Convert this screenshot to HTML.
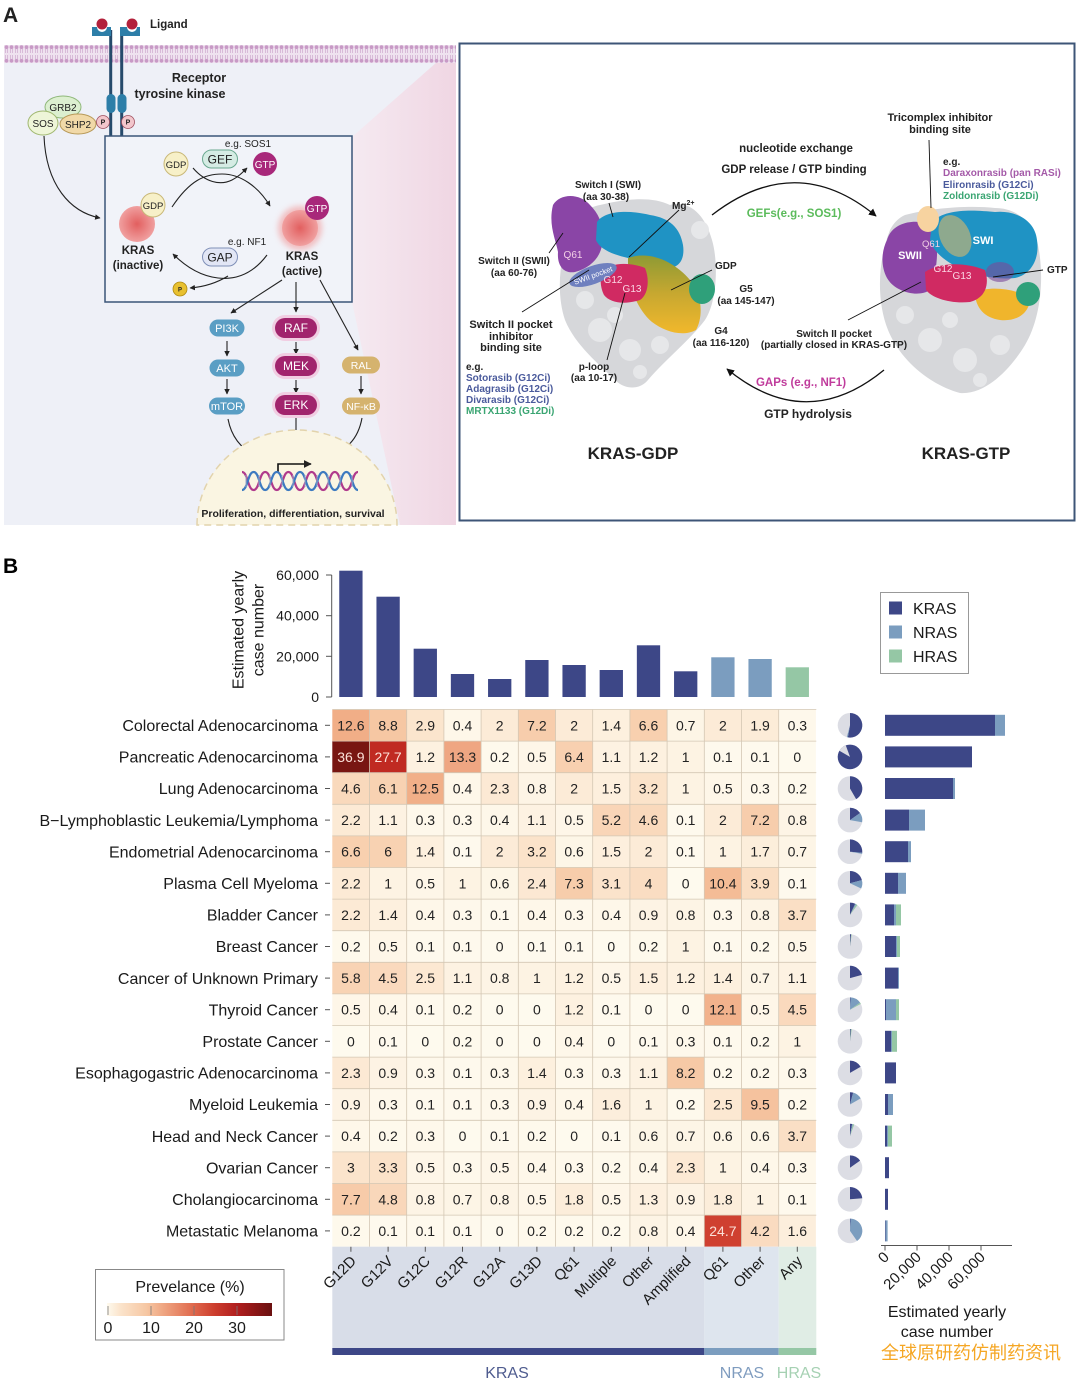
<!DOCTYPE html>
<html><head><meta charset="utf-8">
<style>
html,body{margin:0;padding:0;background:#fff;}
svg{display:block;font-family:"Liberation Sans","Noto Sans CJK SC",sans-serif;}
.v{font-size:14px;text-anchor:middle;fill:#222}
.vw{fill:#fbe0d8}
.rl{font-size:16px;text-anchor:end;fill:#1a1a1a}
.tk{stroke:#555;stroke-width:1}
.b{font-weight:bold}
.pa text{font-weight:bold;fill:#222}
.cl{font-size:15px;text-anchor:end;fill:#1a1a1a}
.K{fill:#3d4787}.N{fill:#7b9dbf}.H{fill:#95c7a5}
</style></head><body>
<svg width="1080" height="1379" viewBox="0 0 1080 1379" xmlns="http://www.w3.org/2000/svg">
<defs>
<marker id="ah" viewBox="0 0 10 10" refX="9" refY="5" markerWidth="5" markerHeight="5" orient="auto"><path d="M0,0L10,5L0,10z" fill="#222"/></marker>
<marker id="ah2" viewBox="0 0 10 10" refX="9" refY="5" markerWidth="6" markerHeight="6" orient="auto"><path d="M0,0L10,5L0,10z" fill="#111"/></marker>
<pattern id="mem" width="5" height="18" patternUnits="userSpaceOnUse" x="4" y="45">
<circle cx="2.5" cy="2.2" r="1.9" fill="#c89ac6"/><circle cx="2.5" cy="15.8" r="1.9" fill="#c89ac6"/>
<path d="M1.6,4v4M3.4,4v4M1.6,10v4M3.4,10v4" stroke="#cfa9cf" stroke-width="0.7"/>
</pattern>
<linearGradient id="pink" x1="0" x2="1"><stop offset="0" stop-color="#f5eaf1"/><stop offset="1" stop-color="#f0d6e3"/></linearGradient>
<radialGradient id="kras"><stop offset="0" stop-color="#e25f5f"/><stop offset="1" stop-color="#f0a0a0"/></radialGradient>
<filter id="blur" x="-50%" y="-50%" width="200%" height="200%"><feGaussianBlur stdDeviation="3"/></filter>
<linearGradient id="cb" x1="0" x2="1">
<stop offset="0" stop-color="#fefaee"/><stop offset="0.08" stop-color="#fbe4cc"/><stop offset="0.24" stop-color="#f6c7a3"/><stop offset="0.34" stop-color="#efa682"/><stop offset="0.52" stop-color="#e06a4e"/><stop offset="0.65" stop-color="#cd3e2e"/><stop offset="0.79" stop-color="#b01e1e"/><stop offset="1" stop-color="#6a1010"/>
</linearGradient>
<linearGradient id="oly" x1="0" y1="0" x2="0" y2="1"><stop offset="0" stop-color="#8e9a34"/><stop offset="0.5" stop-color="#c8a830"/><stop offset="1" stop-color="#f1b82c"/></linearGradient>
</defs>

<!-- ============ PANEL A LEFT ============ -->
<g class="pa">
<text x="3" y="22" font-size="21">A</text>
<rect x="4" y="62" width="452" height="463" fill="#eef0f7"/>
<polygon points="437,62 456,62 456,525 400,525 352,302 352,137" fill="url(#pink)"/>
<rect x="4" y="45" width="452" height="18" fill="#efe2ef"/>
<rect x="4" y="45" width="452" height="18" fill="url(#mem)"/>
<line x1="110.7" y1="30" x2="110.7" y2="136" stroke="#264a6b" stroke-width="3"/>
<line x1="121.7" y1="30" x2="121.7" y2="136" stroke="#264a6b" stroke-width="3"/>
<path d="M92,27h5a5,5 0 0 0 10,0h4v9h-19z" fill="#2d7ea8"/>
<path d="M120,27h7a5,5 0 0 0 10,0h3v9h-20z" fill="#2d7ea8"/>
<circle cx="102" cy="24" r="5.5" fill="#b3213b"/>
<circle cx="132" cy="24" r="5.5" fill="#b3213b"/>
<rect x="106.5" y="94" width="9" height="19" rx="4.5" fill="#2d7ea8"/>
<rect x="117.5" y="94" width="9" height="19" rx="4.5" fill="#2d7ea8"/>
<text x="150" y="28" font-size="11.5">Ligand</text>
<text x="199" y="82" font-size="12.5" text-anchor="middle">Receptor</text>
<text x="180" y="98" font-size="12.5" text-anchor="middle">tyrosine kinase</text>
<ellipse cx="63" cy="107" rx="18" ry="11" fill="#dcefd0" stroke="#8fb87a"/>
<ellipse cx="43" cy="123" rx="15" ry="12" fill="#eef5d8" stroke="#a0b870"/>
<ellipse cx="78" cy="124" rx="18" ry="10" fill="#f1d9a8" stroke="#b89a5a"/>
<text x="63" y="111" font-size="10" text-anchor="middle" style="font-weight:normal">GRB2</text>
<text x="43" y="127" font-size="10" text-anchor="middle" style="font-weight:normal">SOS</text>
<text x="78" y="128" font-size="10" text-anchor="middle" style="font-weight:normal">SHP2</text>
<circle cx="103" cy="122" r="6.5" fill="#f2c6cc" stroke="#a05060" stroke-width="0.8"/>
<circle cx="128" cy="122" r="6.5" fill="#f2c6cc" stroke="#a05060" stroke-width="0.8"/>
<text x="103" y="124.5" font-size="7" text-anchor="middle">P</text>
<text x="128" y="124.5" font-size="7" text-anchor="middle">P</text>
<path d="M44,136 C46,185 70,212 100,218" fill="none" stroke="#222" stroke-width="1.1" marker-end="url(#ah)"/>
<rect x="105" y="136" width="247" height="166" fill="#f1f3f9" stroke="#3a5578" stroke-width="1.5"/>
<text x="248" y="147" font-size="10" text-anchor="middle" style="font-weight:normal">e.g. SOS1</text>
<path d="M193,168 C205,182 220,186 232,180 C238,177 242,173 247,168" fill="none" stroke="#222" stroke-width="1.1" marker-end="url(#ah)"/>
<path d="M172,207 C190,180 205,174 222,174 C240,174 258,186 270,206" fill="none" stroke="#222" stroke-width="1.1" marker-end="url(#ah)"/>
<circle cx="176" cy="164" r="12" fill="#f7f0c8" stroke="#c9b878"/>
<text x="176" y="168" font-size="9.5" text-anchor="middle" style="font-weight:normal">GDP</text>
<rect x="202.5" y="150" width="35" height="18" rx="9" fill="#d5ece4" stroke="#6aa890"/>
<text x="220" y="163.5" font-size="12" text-anchor="middle" style="font-weight:normal">GEF</text>
<circle cx="265" cy="164" r="12" fill="#a8287a"/>
<text x="265" y="168" font-size="10" text-anchor="middle" style="font-weight:normal;fill:#fff">GTP</text>
<circle cx="137" cy="224" r="18" fill="url(#kras)"/>
<circle cx="153" cy="205" r="12" fill="#f7f0c8" stroke="#c9b878"/>
<text x="153" y="209" font-size="9.5" text-anchor="middle" style="font-weight:normal">GDP</text>
<text x="138" y="254" font-size="11.5" text-anchor="middle">KRAS</text>
<text x="138" y="269" font-size="11.5" text-anchor="middle">(inactive)</text>
<circle cx="300" cy="228" r="22" fill="#f29a9a" opacity="0.6" filter="url(#blur)"/>
<circle cx="300" cy="228" r="18" fill="url(#kras)"/>
<circle cx="317" cy="208" r="12" fill="#a8287a"/>
<text x="317" y="212" font-size="10" text-anchor="middle" style="font-weight:normal;fill:#fff">GTP</text>
<text x="302" y="260" font-size="11.5" text-anchor="middle">KRAS</text>
<text x="302" y="275" font-size="11.5" text-anchor="middle">(active)</text>
<text x="247" y="245" font-size="10" text-anchor="middle" style="font-weight:normal">e.g. NF1</text>
<path d="M267,255 C252,275 235,280 218,278 C200,276 185,266 173,254" fill="none" stroke="#222" stroke-width="1.1" marker-end="url(#ah)"/>
<path d="M228,276 C215,284 203,287 190,288" fill="none" stroke="#222" stroke-width="1.1" marker-end="url(#ah)"/>
<rect x="202.5" y="248" width="35" height="18" rx="9" fill="#e2e6f5" stroke="#8090b8"/>
<text x="220" y="261.5" font-size="12" text-anchor="middle" style="font-weight:normal">GAP</text>
<circle cx="180" cy="289" r="7" fill="#e8c030" stroke="#b08a10" stroke-width="0.8"/>
<text x="180" y="291.5" font-size="6" text-anchor="middle">P</text>
<g stroke="#222" stroke-width="1.1" fill="none" marker-end="url(#ah)">
<path d="M282,280 L231,313"/><path d="M296,282 L296,312"/><path d="M320,280 L358,350"/>
<path d="M227,341 L227,356"/><path d="M227,379 L227,394"/>
<path d="M296,342 L296,354"/><path d="M296,380 L296,393"/>
<path d="M361,376 L361,394"/>
<path d="M228,419 C232,440 245,452 261,458"/>
<path d="M296,417 L296,454"/>
<path d="M362,418 C358,440 345,452 326,456"/>
</g>
<rect x="209.5" y="319.5" width="35" height="17" rx="8.5" fill="#5a9ec4"/>
<rect x="209.5" y="359.5" width="35" height="17" rx="8.5" fill="#5a9ec4"/>
<rect x="209" y="397.5" width="36" height="17" rx="8.5" fill="#5a9ec4"/>
<text x="227" y="332" font-size="11" text-anchor="middle" style="font-weight:normal;fill:#fff">PI3K</text>
<text x="227" y="372" font-size="11" text-anchor="middle" style="font-weight:normal;fill:#fff">AKT</text>
<text x="227" y="410" font-size="11" text-anchor="middle" style="font-weight:normal;fill:#fff">mTOR</text>
<rect x="272" y="315" width="48" height="26" rx="13" fill="#f1cde2"/>
<rect x="272" y="353" width="48" height="26" rx="13" fill="#f1cde2"/>
<rect x="272" y="392" width="48" height="26" rx="13" fill="#f1cde2"/>
<rect x="275" y="318" width="42" height="20" rx="10" fill="#a1246d"/>
<rect x="275" y="356" width="42" height="20" rx="10" fill="#a1246d"/>
<rect x="275" y="395" width="42" height="20" rx="10" fill="#a1246d"/>
<text x="296" y="332" font-size="12" text-anchor="middle" style="font-weight:normal;fill:#fff">RAF</text>
<text x="296" y="370" font-size="12" text-anchor="middle" style="font-weight:normal;fill:#fff">MEK</text>
<text x="296" y="409" font-size="12" text-anchor="middle" style="font-weight:normal;fill:#fff">ERK</text>
<rect x="342" y="356.5" width="38" height="17" rx="8.5" fill="#d5b36e"/>
<rect x="342" y="397.5" width="38" height="17" rx="8.5" fill="#d5b36e"/>
<text x="361" y="369" font-size="10.5" text-anchor="middle" style="font-weight:normal;fill:#fff">RAL</text>
<text x="361" y="410" font-size="10.5" text-anchor="middle" style="font-weight:normal;fill:#fff">NF-κB</text>
<path d="M197,525 A100,95 0 0 1 397,525 Z" fill="#faf5e2" stroke="#e2d3ac" stroke-width="1.5" stroke-dasharray="7,5"/>
<path d="M278,473 L278,464 L311,464" fill="none" stroke="#111" stroke-width="1.6" marker-end="url(#ah)"/>
<path d="M242,472 C247.8,472 247.8,490 253.6,490 S259.4,472 265.2,472 S271,490 276.8,490 S282.6,472 288.4,472 S294.2,490 300,490 S305.8,472 311.6,472 S317.4,490 323.2,490 S329,472 334.8,472 S340.6,490 346.4,490 S352.2,472 358,472" fill="none" stroke="#b03a8c" stroke-width="2.2"/>
<path d="M242,490 C247.8,490 247.8,472 253.6,472 S259.4,490 265.2,490 S271,472 276.8,472 S282.6,490 288.4,490 S294.2,472 300,472 S305.8,490 311.6,490 S317.4,472 323.2,472 S329,490 334.8,490 S340.6,472 346.4,472 S352.2,490 358,490" fill="none" stroke="#3d7ac0" stroke-width="2.2"/>
<g stroke="#9aa8c8" stroke-width="1"><path d="M246,475v12M259,475v12M270,475v12M282,475v12M293,475v12M305,475v12M317,475v12M328,475v12M340,475v12M352,475v12"/></g>
<text x="293" y="517" font-size="10.5" text-anchor="middle">Proliferation, differentiation, survival</text>
</g>

<!-- ============ PANEL A RIGHT ============ -->
<g class="pa">
<rect x="459.5" y="43.5" width="615" height="477" fill="#fff" stroke="#3d5577" stroke-width="2"/>
<path d="M575,220 C560,250 555,290 565,320 C575,345 600,365 615,380 C625,390 640,390 648,380 C665,360 690,340 705,320 C718,300 718,260 712,240 C705,215 690,200 670,205 C650,195 620,200 600,205 C590,207 580,212 575,220 Z" fill="#d6d7da"/>
<g fill="#e6e7e9"><circle cx="600" cy="330" r="12"/><circle cx="630" cy="350" r="11"/><circle cx="585" cy="300" r="9"/><circle cx="660" cy="345" r="9"/><circle cx="615" cy="315" r="8"/><circle cx="700" cy="230" r="9"/><circle cx="640" cy="372" r="7"/></g>
<path d="M553,205 C560,193 580,193 590,205 C600,215 605,228 602,245 C600,258 590,268 575,272 C563,274 557,265 558,252 C556,240 548,225 553,205 Z" fill="#8a45a6"/>
<path d="M597,222 C605,210 630,210 650,215 C670,218 680,228 683,245 C685,258 680,268 668,268 C650,266 640,262 628,258 C615,255 600,250 596,240 Z" fill="#1f93c4"/>
<path d="M628,258 C650,250 675,262 690,280 C703,295 703,318 696,330 C683,337 665,332 652,322 C638,310 630,290 628,270 Z" fill="url(#oly)"/>
<ellipse cx="702" cy="289" rx="13" ry="15" fill="#2fa07a"/>
<path d="M602,272 C610,262 630,262 645,268 C650,280 648,295 640,300 C625,305 610,303 604,295 C600,287 600,278 602,272 Z" fill="#d02a62"/>
<ellipse cx="593" cy="275" rx="25" ry="9" transform="rotate(-20 593 275)" fill="#6f80bf"/>
<text x="593" y="278" font-size="7.5" text-anchor="middle" transform="rotate(-20 593 275)" style="font-weight:normal;fill:#fff">SWII pocket</text>
<text x="573" y="258" font-size="10" text-anchor="middle" style="font-weight:normal;fill:#f4d0e6">Q61</text>
<text x="613" y="283" font-size="10" text-anchor="middle" style="font-weight:normal;fill:#fbd6e4">G12</text>
<text x="632" y="292" font-size="10" text-anchor="middle" style="font-weight:normal;fill:#fbd6e4">G13</text>
<path d="M890,230 C878,260 876,300 888,330 C900,360 930,385 960,393 C985,395 1010,370 1025,345 C1040,320 1045,280 1038,245 C1032,220 1015,208 995,208 C970,205 930,208 905,215 C898,218 893,224 890,230 Z" fill="#d6d7da"/>
<g fill="#e6e7e9"><circle cx="930" cy="340" r="12"/><circle cx="965" cy="360" r="12"/><circle cx="905" cy="315" r="9"/><circle cx="1000" cy="345" r="10"/><circle cx="950" cy="320" r="8"/><circle cx="980" cy="380" r="7"/></g>
<path d="M887,240 C892,222 915,218 932,225 C940,240 938,270 930,290 C918,298 895,292 887,278 C880,265 882,250 887,240 Z" fill="#8a45a6"/>
<path d="M932,222 C945,208 975,210 995,212 C1015,210 1035,220 1037,240 C1040,260 1030,275 1015,278 C995,280 975,275 960,268 C945,262 932,250 930,240 Z" fill="#1f93c4"/>
<path d="M975,292 C990,286 1015,288 1030,298 C1030,312 1018,322 1000,320 C985,318 975,308 975,292 Z" fill="#f0b52c"/>
<ellipse cx="1028" cy="294" rx="12" ry="12" fill="#2fa07a"/>
<path d="M925,272 C940,262 965,262 985,270 C990,285 985,298 970,302 C950,304 932,298 926,290 Z" fill="#d02a62"/>
<ellipse cx="1000" cy="272" rx="14" ry="10" fill="#7a4a9a" opacity="0.6"/>
<ellipse cx="928" cy="219" rx="11" ry="13" fill="#f7d3a0"/>
<ellipse cx="955" cy="236" rx="15" ry="22" transform="rotate(-25 955 236)" fill="#a2ad85" opacity="0.85"/>
<text x="910" y="259" font-size="11" text-anchor="middle" style="fill:#fff">SWII</text>
<text x="983" y="244" font-size="11" text-anchor="middle" style="fill:#fff">SWI</text>
<text x="931" y="247" font-size="9.5" text-anchor="middle" style="font-weight:normal;fill:#f4d0e6">Q61</text>
<text x="943" y="272" font-size="10" text-anchor="middle" style="font-weight:normal;fill:#fbd6e4">G12</text>
<text x="962" y="279" font-size="10" text-anchor="middle" style="font-weight:normal;fill:#fbd6e4">G13</text>
<g stroke="#111" stroke-width="0.9" fill="none">
<path d="M609,203 L613,217"/><path d="M679,210 L629,257"/><path d="M712,270 L671,290"/>
<path d="M549,253 L563,233"/><path d="M522,312 L589,270"/><path d="M607,360 L625,293"/>
<path d="M848,320 L921,282"/><path d="M1043,270 L993,277"/><path d="M929,140 L931,208"/>
</g>
<path d="M712,215 Q796,150 876,216" fill="none" stroke="#111" stroke-width="1.3" marker-end="url(#ah2)"/>
<path d="M884,370 Q806,434 727,369" fill="none" stroke="#111" stroke-width="1.3" marker-end="url(#ah2)"/>
<text x="940" y="121" font-size="11" text-anchor="middle">Tricomplex inhibitor</text>
<text x="940" y="133" font-size="11" text-anchor="middle">binding site</text>
<text x="943" y="165" font-size="10">e.g.</text>
<text x="943" y="176" font-size="10" style="fill:#a45aa8">Daraxonrasib (pan RASi)</text>
<text x="943" y="188" font-size="10" style="fill:#4a5a9c">Elironrasib (G12Ci)</text>
<text x="943" y="199" font-size="10" style="fill:#3aa572">Zoldonrasib (G12Di)</text>
<text x="796" y="152" font-size="11.5" text-anchor="middle">nucleotide exchange</text>
<text x="794" y="173" font-size="11.5" text-anchor="middle">GDP release / GTP binding</text>
<text x="794" y="217" font-size="11.5" text-anchor="middle" style="fill:#5bbb5b">GEFs(e.g., SOS1)</text>
<text x="608" y="188" font-size="10" text-anchor="middle">Switch I (SWI)</text>
<text x="606" y="200" font-size="10" text-anchor="middle">(aa 30-38)</text>
<text x="672" y="209" font-size="10">Mg<tspan font-size="7" dy="-4">2+</tspan></text>
<text x="514" y="264" font-size="10" text-anchor="middle">Switch II (SWII)</text>
<text x="514" y="276" font-size="10" text-anchor="middle">(aa 60-76)</text>
<text x="715" y="269" font-size="10">GDP</text>
<text x="746" y="292" font-size="10" text-anchor="middle">G5</text>
<text x="746" y="304" font-size="10" text-anchor="middle">(aa 145-147)</text>
<text x="721" y="334" font-size="10" text-anchor="middle">G4</text>
<text x="721" y="346" font-size="10" text-anchor="middle">(aa 116-120)</text>
<text x="511" y="328" font-size="11" text-anchor="middle">Switch II pocket</text>
<text x="511" y="340" font-size="11" text-anchor="middle">inhibitor</text>
<text x="511" y="351" font-size="11" text-anchor="middle">binding site</text>
<text x="466" y="370" font-size="10">e.g.</text>
<text x="466" y="381" font-size="10" style="fill:#4a5a9c">Sotorasib (G12Ci)</text>
<text x="466" y="392" font-size="10" style="fill:#4a5a9c">Adagrasib (G12Ci)</text>
<text x="466" y="403" font-size="10" style="fill:#4a5a9c">Divarasib (G12Ci)</text>
<text x="466" y="414" font-size="10" style="fill:#3aa572">MRTX1133 (G12Di)</text>
<text x="594" y="370" font-size="10" text-anchor="middle">p-loop</text>
<text x="594" y="381" font-size="10" text-anchor="middle">(aa 10-17)</text>
<text x="834" y="337" font-size="10" text-anchor="middle">Switch II pocket</text>
<text x="834" y="348" font-size="10" text-anchor="middle">(partially closed in KRAS-GTP)</text>
<text x="801" y="386" font-size="11.5" text-anchor="middle" style="fill:#c03c9c">GAPs (e.g., NF1)</text>
<text x="808" y="418" font-size="12" text-anchor="middle">GTP hydrolysis</text>
<text x="1047" y="273" font-size="10">GTP</text>
<text x="633" y="459" font-size="17" text-anchor="middle">KRAS-GDP</text>
<text x="966" y="459" font-size="17" text-anchor="middle">KRAS-GTP</text>
</g>

<!-- ============ PANEL B ============ -->
<text x="3" y="573" font-size="21" font-weight="bold">B</text>
<line x1="331.7" y1="575" x2="331.7" y2="697" class="tk"/>
<g class="tk"><line x1="326" x2="331.7" y1="575" y2="575"/><line x1="326" x2="331.7" y1="615.7" y2="615.7"/><line x1="326" x2="331.7" y1="656.3" y2="656.3"/><line x1="326" x2="331.7" y1="697" y2="697"/></g>
<g font-size="14" text-anchor="end" fill="#1a1a1a">
<text x="319" y="580">60,000</text><text x="319" y="620.7">40,000</text><text x="319" y="661.3">20,000</text><text x="319" y="702">0</text>
</g>
<text transform="translate(243.5,630) rotate(-90)" font-size="16" text-anchor="middle" fill="#1a1a1a">Estimated yearly</text>
<text transform="translate(263.5,630) rotate(-90)" font-size="16" text-anchor="middle" fill="#1a1a1a">case number</text>
<g>
<rect class="K" x="339.25" y="570.7" width="23.3" height="126.3"/>
<rect class="K" x="376.45" y="596.7" width="23.3" height="100.3"/>
<rect class="K" x="413.65" y="648.7" width="23.3" height="48.3"/>
<rect class="K" x="450.85" y="674" width="23.3" height="23"/>
<rect class="K" x="488.05" y="679" width="23.3" height="18"/>
<rect class="K" x="525.25" y="660" width="23.3" height="37"/>
<rect class="K" x="562.45" y="665" width="23.3" height="32"/>
<rect class="K" x="599.65" y="670" width="23.3" height="27"/>
<rect class="K" x="636.85" y="645.3" width="23.3" height="51.7"/>
<rect class="K" x="674.05" y="671.3" width="23.3" height="25.7"/>
<rect class="N" x="711.25" y="657.3" width="23.3" height="39.7"/>
<rect class="N" x="748.45" y="659" width="23.3" height="38"/>
<rect class="H" x="785.65" y="667.3" width="23.3" height="29.7"/>
</g>
<rect x="880.5" y="592.5" width="88" height="81" fill="#fff" stroke="#999"/>
<rect class="K" x="889" y="601.5" width="13" height="13"/>
<rect class="N" x="889" y="625.5" width="13" height="13"/>
<rect class="H" x="889" y="649.5" width="13" height="13"/>
<g font-size="16" fill="#1a1a1a"><text x="913" y="614">KRAS</text><text x="913" y="638">NRAS</text><text x="913" y="662">HRAS</text></g>

<g transform="translate(0,709.5)">
<rect x="332.3" width="37.2" height="31.6" fill="#f1ae87"/><rect x="369.5" width="37.2" height="31.6" fill="#f6c7a3"/><rect x="406.7" width="37.2" height="31.6" fill="#fbe5cd"/><rect x="443.9" width="37.2" height="31.6" fill="#fef7e9"/><rect x="481.1" width="37.2" height="31.6" fill="#fcebd7"/><rect x="518.3" width="37.2" height="31.6" fill="#f7cdac"/><rect x="555.5" width="37.2" height="31.6" fill="#fcebd7"/><rect x="592.7" width="37.2" height="31.6" fill="#fdf0de"/><rect x="629.9" width="37.2" height="31.6" fill="#f8d0af"/><rect x="667.1" width="37.2" height="31.6" fill="#fdf5e6"/><rect x="704.3" width="37.2" height="31.6" fill="#fcebd7"/><rect x="741.5" width="37.2" height="31.6" fill="#fcecd8"/><rect x="778.7" width="37.2" height="31.6" fill="#fef8eb"/>
<text class="v" y="20.8"><tspan x="350.9">12.6</tspan><tspan x="388.1">8.8</tspan><tspan x="425.3">2.9</tspan><tspan x="462.5">0.4</tspan><tspan x="499.7">2</tspan><tspan x="536.9">7.2</tspan><tspan x="574.1">2</tspan><tspan x="611.3">1.4</tspan><tspan x="648.5">6.6</tspan><tspan x="685.7">0.7</tspan><tspan x="722.9">2</tspan><tspan x="760.1">1.9</tspan><tspan x="797.3">0.3</tspan></text>
<text class="rl" x="318" y="21.5">Colorectal Adenocarcinoma</text><line class="tk" x1="325" x2="330" y1="15.8" y2="15.8"/>
<g transform="translate(850,15.8)"><circle r="12.3" fill="#dcdde4"/><path class="K" d="M0,0L0,-12.3A12.3,12.3 0 1 1 -2.14,12.11Z"/><path class="N" d="M0,0L-2.14,12.11A12.3,12.3 0 0 1 -3.18,11.88Z"/></g>
<rect class="K" x="885" y="5.3" width="110" height="21"/><rect class="N" x="995" y="5.3" width="10" height="21"/>
</g>

<g transform="translate(0,741.1)">
<rect x="332.3" width="37.2" height="31.6" fill="#781612"/><rect x="369.5" width="37.2" height="31.6" fill="#c02a22"/><rect x="406.7" width="37.2" height="31.6" fill="#fdf1e0"/><rect x="443.9" width="37.2" height="31.6" fill="#efa682"/><rect x="481.1" width="37.2" height="31.6" fill="#fef9ec"/><rect x="518.3" width="37.2" height="31.6" fill="#fef6e8"/><rect x="555.5" width="37.2" height="31.6" fill="#f8d0b0"/><rect x="592.7" width="37.2" height="31.6" fill="#fdf2e2"/><rect x="629.9" width="37.2" height="31.6" fill="#fdf1e0"/><rect x="667.1" width="37.2" height="31.6" fill="#fdf3e3"/><rect x="704.3" width="37.2" height="31.6" fill="#fef9ed"/><rect x="741.5" width="37.2" height="31.6" fill="#fef9ed"/><rect x="778.7" width="37.2" height="31.6" fill="#fefaee"/>
<text class="v" y="20.8"><tspan x="350.9" class="vw">36.9</tspan><tspan x="388.1" class="vw">27.7</tspan><tspan x="425.3">1.2</tspan><tspan x="462.5">13.3</tspan><tspan x="499.7">0.2</tspan><tspan x="536.9">0.5</tspan><tspan x="574.1">6.4</tspan><tspan x="611.3">1.1</tspan><tspan x="648.5">1.2</tspan><tspan x="685.7">1</tspan><tspan x="722.9">0.1</tspan><tspan x="760.1">0.1</tspan><tspan x="797.3">0</tspan></text>
<text class="rl" x="318" y="21.5">Pancreatic Adenocarcinoma</text><line class="tk" x1="325" x2="330" y1="15.8" y2="15.8"/>
<g transform="translate(850,15.8)"><circle r="12.3" class="K"/><path fill="#dcdde4" d="M0,0L-10.65,-6.15A12.3,12.3 0 0 1 -4.21,-11.56Z"/></g>
<rect class="K" x="885" y="5.3" width="87" height="21"/>
</g>

<g transform="translate(0,772.7)">
<rect x="332.3" width="37.2" height="31.6" fill="#f9d9bc"/><rect x="369.5" width="37.2" height="31.6" fill="#f8d2b2"/><rect x="406.7" width="37.2" height="31.6" fill="#f1af88"/><rect x="443.9" width="37.2" height="31.6" fill="#fef7e9"/><rect x="481.1" width="37.2" height="31.6" fill="#fce9d4"/><rect x="518.3" width="37.2" height="31.6" fill="#fdf4e5"/><rect x="555.5" width="37.2" height="31.6" fill="#fcebd7"/><rect x="592.7" width="37.2" height="31.6" fill="#fdefdd"/><rect x="629.9" width="37.2" height="31.6" fill="#fbe3ca"/><rect x="667.1" width="37.2" height="31.6" fill="#fdf3e3"/><rect x="704.3" width="37.2" height="31.6" fill="#fef6e8"/><rect x="741.5" width="37.2" height="31.6" fill="#fef8eb"/><rect x="778.7" width="37.2" height="31.6" fill="#fef9ec"/>
<text class="v" y="20.8"><tspan x="350.9">4.6</tspan><tspan x="388.1">6.1</tspan><tspan x="425.3">12.5</tspan><tspan x="462.5">0.4</tspan><tspan x="499.7">2.3</tspan><tspan x="536.9">0.8</tspan><tspan x="574.1">2</tspan><tspan x="611.3">1.5</tspan><tspan x="648.5">3.2</tspan><tspan x="685.7">1</tspan><tspan x="722.9">0.5</tspan><tspan x="760.1">0.3</tspan><tspan x="797.3">0.2</tspan></text>
<text class="rl" x="318" y="21.5">Lung Adenocarcinoma</text><line class="tk" x1="325" x2="330" y1="15.8" y2="15.8"/>
<g transform="translate(850,15.8)"><circle r="12.3" fill="#dcdde4"/><path class="K" d="M0,0L0,-12.3A12.3,12.3 0 0 1 6.15,10.65Z"/></g>
<rect class="K" x="885" y="5.3" width="68" height="21"/><rect class="N" x="953" y="5.3" width="2" height="21"/>
</g>

<g transform="translate(0,804.3)">
<rect x="332.3" width="37.2" height="31.6" fill="#fcead5"/><rect x="369.5" width="37.2" height="31.6" fill="#fdf2e2"/><rect x="406.7" width="37.2" height="31.6" fill="#fef8eb"/><rect x="443.9" width="37.2" height="31.6" fill="#fef8eb"/><rect x="481.1" width="37.2" height="31.6" fill="#fef7e9"/><rect x="518.3" width="37.2" height="31.6" fill="#fdf2e2"/><rect x="555.5" width="37.2" height="31.6" fill="#fef6e8"/><rect x="592.7" width="37.2" height="31.6" fill="#f9d5b7"/><rect x="629.9" width="37.2" height="31.6" fill="#f9d9bc"/><rect x="667.1" width="37.2" height="31.6" fill="#fef9ed"/><rect x="704.3" width="37.2" height="31.6" fill="#fcebd7"/><rect x="741.5" width="37.2" height="31.6" fill="#f7cdac"/><rect x="778.7" width="37.2" height="31.6" fill="#fdf4e5"/>
<text class="v" y="20.8"><tspan x="350.9">2.2</tspan><tspan x="388.1">1.1</tspan><tspan x="425.3">0.3</tspan><tspan x="462.5">0.3</tspan><tspan x="499.7">0.4</tspan><tspan x="536.9">1.1</tspan><tspan x="574.1">0.5</tspan><tspan x="611.3">5.2</tspan><tspan x="648.5">4.6</tspan><tspan x="685.7">0.1</tspan><tspan x="722.9">2</tspan><tspan x="760.1">7.2</tspan><tspan x="797.3">0.8</tspan></text>
<text class="rl" x="318" y="21.5">B−Lymphoblastic Leukemia/Lymphoma</text><line class="tk" x1="325" x2="330" y1="15.8" y2="15.8"/>
<g transform="translate(850,15.8)"><circle r="12.3" fill="#dcdde4"/><path class="K" d="M0,0L0,-12.3A12.3,12.3 0 0 1 10.08,-7.05Z"/><path class="N" d="M0,0L10.08,-7.05A12.3,12.3 0 0 1 12.11,2.14Z"/></g>
<rect class="K" x="885" y="5.3" width="24" height="21"/><rect class="N" x="909" y="5.3" width="16" height="21"/>
</g>

<g transform="translate(0,835.9)">
<rect x="332.3" width="37.2" height="31.6" fill="#f8d0af"/><rect x="369.5" width="37.2" height="31.6" fill="#f8d2b2"/><rect x="406.7" width="37.2" height="31.6" fill="#fdf0de"/><rect x="443.9" width="37.2" height="31.6" fill="#fef9ed"/><rect x="481.1" width="37.2" height="31.6" fill="#fcebd7"/><rect x="518.3" width="37.2" height="31.6" fill="#fbe3ca"/><rect x="555.5" width="37.2" height="31.6" fill="#fdf6e7"/><rect x="592.7" width="37.2" height="31.6" fill="#fdefdd"/><rect x="629.9" width="37.2" height="31.6" fill="#fcebd7"/><rect x="667.1" width="37.2" height="31.6" fill="#fef9ed"/><rect x="704.3" width="37.2" height="31.6" fill="#fdf3e3"/><rect x="741.5" width="37.2" height="31.6" fill="#fceedb"/><rect x="778.7" width="37.2" height="31.6" fill="#fdf5e6"/>
<text class="v" y="20.8"><tspan x="350.9">6.6</tspan><tspan x="388.1">6</tspan><tspan x="425.3">1.4</tspan><tspan x="462.5">0.1</tspan><tspan x="499.7">2</tspan><tspan x="536.9">3.2</tspan><tspan x="574.1">0.6</tspan><tspan x="611.3">1.5</tspan><tspan x="648.5">2</tspan><tspan x="685.7">0.1</tspan><tspan x="722.9">1</tspan><tspan x="760.1">1.7</tspan><tspan x="797.3">0.7</tspan></text>
<text class="rl" x="318" y="21.5">Endometrial Adenocarcinoma</text><line class="tk" x1="325" x2="330" y1="15.8" y2="15.8"/>
<g transform="translate(850,15.8)"><circle r="12.3" fill="#dcdde4"/><path class="K" d="M0,0L0,-12.3A12.3,12.3 0 0 1 12.25,1.07Z"/><path class="N" d="M0,0L12.25,1.07A12.3,12.3 0 0 1 12.11,2.14Z"/></g>
<rect class="K" x="885" y="5.3" width="23" height="21"/><rect class="N" x="908" y="5.3" width="3" height="21"/>
</g>

<g transform="translate(0,867.5)">
<rect x="332.3" width="37.2" height="31.6" fill="#fcead5"/><rect x="369.5" width="37.2" height="31.6" fill="#fdf3e3"/><rect x="406.7" width="37.2" height="31.6" fill="#fef6e8"/><rect x="443.9" width="37.2" height="31.6" fill="#fdf3e3"/><rect x="481.1" width="37.2" height="31.6" fill="#fdf6e7"/><rect x="518.3" width="37.2" height="31.6" fill="#fce8d3"/><rect x="555.5" width="37.2" height="31.6" fill="#f7cdab"/><rect x="592.7" width="37.2" height="31.6" fill="#fbe3cb"/><rect x="629.9" width="37.2" height="31.6" fill="#faddc2"/><rect x="667.1" width="37.2" height="31.6" fill="#fefaee"/><rect x="704.3" width="37.2" height="31.6" fill="#f4bc96"/><rect x="741.5" width="37.2" height="31.6" fill="#fadec3"/><rect x="778.7" width="37.2" height="31.6" fill="#fef9ed"/>
<text class="v" y="20.8"><tspan x="350.9">2.2</tspan><tspan x="388.1">1</tspan><tspan x="425.3">0.5</tspan><tspan x="462.5">1</tspan><tspan x="499.7">0.6</tspan><tspan x="536.9">2.4</tspan><tspan x="574.1">7.3</tspan><tspan x="611.3">3.1</tspan><tspan x="648.5">4</tspan><tspan x="685.7">0</tspan><tspan x="722.9">10.4</tspan><tspan x="760.1">3.9</tspan><tspan x="797.3">0.1</tspan></text>
<text class="rl" x="318" y="21.5">Plasma Cell Myeloma</text><line class="tk" x1="325" x2="330" y1="15.8" y2="15.8"/>
<g transform="translate(850,15.8)"><circle r="12.3" fill="#dcdde4"/><path class="K" d="M0,0L0,-12.3A12.3,12.3 0 0 1 11.88,-3.18Z"/><path class="N" d="M0,0L11.88,-3.18A12.3,12.3 0 0 1 11.15,5.2Z"/></g>
<rect class="K" x="885" y="5.3" width="13" height="21"/><rect class="N" x="898" y="5.3" width="8" height="21"/>
</g>

<g transform="translate(0,899.1)">
<rect x="332.3" width="37.2" height="31.6" fill="#fcead5"/><rect x="369.5" width="37.2" height="31.6" fill="#fdf0de"/><rect x="406.7" width="37.2" height="31.6" fill="#fef7e9"/><rect x="443.9" width="37.2" height="31.6" fill="#fef8eb"/><rect x="481.1" width="37.2" height="31.6" fill="#fef9ed"/><rect x="518.3" width="37.2" height="31.6" fill="#fef7e9"/><rect x="555.5" width="37.2" height="31.6" fill="#fef8eb"/><rect x="592.7" width="37.2" height="31.6" fill="#fef7e9"/><rect x="629.9" width="37.2" height="31.6" fill="#fdf3e4"/><rect x="667.1" width="37.2" height="31.6" fill="#fdf4e5"/><rect x="704.3" width="37.2" height="31.6" fill="#fef8eb"/><rect x="741.5" width="37.2" height="31.6" fill="#fdf4e5"/><rect x="778.7" width="37.2" height="31.6" fill="#fadfc5"/>
<text class="v" y="20.8"><tspan x="350.9">2.2</tspan><tspan x="388.1">1.4</tspan><tspan x="425.3">0.4</tspan><tspan x="462.5">0.3</tspan><tspan x="499.7">0.1</tspan><tspan x="536.9">0.4</tspan><tspan x="574.1">0.3</tspan><tspan x="611.3">0.4</tspan><tspan x="648.5">0.9</tspan><tspan x="685.7">0.8</tspan><tspan x="722.9">0.3</tspan><tspan x="760.1">0.8</tspan><tspan x="797.3">3.7</tspan></text>
<text class="rl" x="318" y="21.5">Bladder Cancer</text><line class="tk" x1="325" x2="330" y1="15.8" y2="15.8"/>
<g transform="translate(850,15.8)"><circle r="12.3" fill="#dcdde4"/><path class="K" d="M0,0L0,-12.3A12.3,12.3 0 0 1 5.2,-11.15Z"/><path class="N" d="M0,0L5.2,-11.15A12.3,12.3 0 0 1 6.15,-10.65Z"/><path class="H" d="M0,0L6.15,-10.65A12.3,12.3 0 0 1 7.4,-9.82Z"/></g>
<rect class="K" x="885" y="5.3" width="9" height="21"/><rect class="N" x="894" y="5.3" width="2" height="21"/><rect class="H" x="896" y="5.3" width="5" height="21"/>
</g>

<g transform="translate(0,930.7)">
<rect x="332.3" width="37.2" height="31.6" fill="#fef9ec"/><rect x="369.5" width="37.2" height="31.6" fill="#fef6e8"/><rect x="406.7" width="37.2" height="31.6" fill="#fef9ed"/><rect x="443.9" width="37.2" height="31.6" fill="#fef9ed"/><rect x="481.1" width="37.2" height="31.6" fill="#fefaee"/><rect x="518.3" width="37.2" height="31.6" fill="#fef9ed"/><rect x="555.5" width="37.2" height="31.6" fill="#fef9ed"/><rect x="592.7" width="37.2" height="31.6" fill="#fefaee"/><rect x="629.9" width="37.2" height="31.6" fill="#fef9ec"/><rect x="667.1" width="37.2" height="31.6" fill="#fdf3e3"/><rect x="704.3" width="37.2" height="31.6" fill="#fef9ed"/><rect x="741.5" width="37.2" height="31.6" fill="#fef9ec"/><rect x="778.7" width="37.2" height="31.6" fill="#fef6e8"/>
<text class="v" y="20.8"><tspan x="350.9">0.2</tspan><tspan x="388.1">0.5</tspan><tspan x="425.3">0.1</tspan><tspan x="462.5">0.1</tspan><tspan x="499.7">0</tspan><tspan x="536.9">0.1</tspan><tspan x="574.1">0.1</tspan><tspan x="611.3">0</tspan><tspan x="648.5">0.2</tspan><tspan x="685.7">1</tspan><tspan x="722.9">0.1</tspan><tspan x="760.1">0.2</tspan><tspan x="797.3">0.5</tspan></text>
<text class="rl" x="318" y="21.5">Breast Cancer</text><line class="tk" x1="325" x2="330" y1="15.8" y2="15.8"/>
<g transform="translate(850,15.8)"><circle r="12.3" fill="#dcdde4"/><path class="K" d="M0,0L0,-12.3A12.3,12.3 0 0 1 1.07,-12.25Z"/><path class="H" d="M0,0L1.07,-12.25A12.3,12.3 0 0 1 1.71,-12.18Z"/></g>
<rect class="K" x="885" y="5.3" width="11" height="21"/><rect class="N" x="896" y="5.3" width="1" height="21"/><rect class="H" x="897" y="5.3" width="3" height="21"/>
</g>

<g transform="translate(0,962.3)">
<rect x="332.3" width="37.2" height="31.6" fill="#f8d3b4"/><rect x="369.5" width="37.2" height="31.6" fill="#fad9bd"/><rect x="406.7" width="37.2" height="31.6" fill="#fce8d2"/><rect x="443.9" width="37.2" height="31.6" fill="#fdf2e2"/><rect x="481.1" width="37.2" height="31.6" fill="#fdf4e5"/><rect x="518.3" width="37.2" height="31.6" fill="#fdf3e3"/><rect x="555.5" width="37.2" height="31.6" fill="#fdf1e0"/><rect x="592.7" width="37.2" height="31.6" fill="#fef6e8"/><rect x="629.9" width="37.2" height="31.6" fill="#fdefdd"/><rect x="667.1" width="37.2" height="31.6" fill="#fdf1e0"/><rect x="704.3" width="37.2" height="31.6" fill="#fdf0de"/><rect x="741.5" width="37.2" height="31.6" fill="#fdf5e6"/><rect x="778.7" width="37.2" height="31.6" fill="#fdf2e2"/>
<text class="v" y="20.8"><tspan x="350.9">5.8</tspan><tspan x="388.1">4.5</tspan><tspan x="425.3">2.5</tspan><tspan x="462.5">1.1</tspan><tspan x="499.7">0.8</tspan><tspan x="536.9">1</tspan><tspan x="574.1">1.2</tspan><tspan x="611.3">0.5</tspan><tspan x="648.5">1.5</tspan><tspan x="685.7">1.2</tspan><tspan x="722.9">1.4</tspan><tspan x="760.1">0.7</tspan><tspan x="797.3">1.1</tspan></text>
<text class="rl" x="318" y="21.5">Cancer of Unknown Primary</text><line class="tk" x1="325" x2="330" y1="15.8" y2="15.8"/>
<g transform="translate(850,15.8)"><circle r="12.3" fill="#dcdde4"/><path class="K" d="M0,0L0,-12.3A12.3,12.3 0 0 1 11.88,-3.18Z"/></g>
<rect class="K" x="885" y="5.3" width="13" height="21"/><rect class="N" x="898" y="5.3" width="1" height="21"/>
</g>

<g transform="translate(0,993.9)">
<rect x="332.3" width="37.2" height="31.6" fill="#fef6e8"/><rect x="369.5" width="37.2" height="31.6" fill="#fef7e9"/><rect x="406.7" width="37.2" height="31.6" fill="#fef9ed"/><rect x="443.9" width="37.2" height="31.6" fill="#fef9ec"/><rect x="481.1" width="37.2" height="31.6" fill="#fefaee"/><rect x="518.3" width="37.2" height="31.6" fill="#fefaee"/><rect x="555.5" width="37.2" height="31.6" fill="#fdf1e0"/><rect x="592.7" width="37.2" height="31.6" fill="#fef9ed"/><rect x="629.9" width="37.2" height="31.6" fill="#fefaee"/><rect x="667.1" width="37.2" height="31.6" fill="#fefaee"/><rect x="704.3" width="37.2" height="31.6" fill="#f2b28c"/><rect x="741.5" width="37.2" height="31.6" fill="#fef6e8"/><rect x="778.7" width="37.2" height="31.6" fill="#fad9bd"/>
<text class="v" y="20.8"><tspan x="350.9">0.5</tspan><tspan x="388.1">0.4</tspan><tspan x="425.3">0.1</tspan><tspan x="462.5">0.2</tspan><tspan x="499.7">0</tspan><tspan x="536.9">0</tspan><tspan x="574.1">1.2</tspan><tspan x="611.3">0.1</tspan><tspan x="648.5">0</tspan><tspan x="685.7">0</tspan><tspan x="722.9">12.1</tspan><tspan x="760.1">0.5</tspan><tspan x="797.3">4.5</tspan></text>
<text class="rl" x="318" y="21.5">Thyroid Cancer</text><line class="tk" x1="325" x2="330" y1="15.8" y2="15.8"/>
<g transform="translate(850,15.8)"><circle r="12.3" fill="#dcdde4"/><path class="K" d="M0,0L0,-12.3A12.3,12.3 0 0 1 0.64,-12.28Z"/><path class="N" d="M0,0L0.64,-12.28A12.3,12.3 0 0 1 10.08,-7.05Z"/><path class="H" d="M0,0L10.08,-7.05A12.3,12.3 0 0 1 10.86,-5.77Z"/></g>
<rect class="K" x="885" y="5.3" width="1" height="21"/><rect class="N" x="886" y="5.3" width="10" height="21"/><rect class="H" x="896" y="5.3" width="3" height="21"/>
</g>

<g transform="translate(0,1025.5)">
<rect x="332.3" width="37.2" height="31.6" fill="#fefaee"/><rect x="369.5" width="37.2" height="31.6" fill="#fef9ed"/><rect x="406.7" width="37.2" height="31.6" fill="#fefaee"/><rect x="443.9" width="37.2" height="31.6" fill="#fef9ec"/><rect x="481.1" width="37.2" height="31.6" fill="#fefaee"/><rect x="518.3" width="37.2" height="31.6" fill="#fefaee"/><rect x="555.5" width="37.2" height="31.6" fill="#fef7e9"/><rect x="592.7" width="37.2" height="31.6" fill="#fefaee"/><rect x="629.9" width="37.2" height="31.6" fill="#fef9ed"/><rect x="667.1" width="37.2" height="31.6" fill="#fef8eb"/><rect x="704.3" width="37.2" height="31.6" fill="#fef9ed"/><rect x="741.5" width="37.2" height="31.6" fill="#fef9ec"/><rect x="778.7" width="37.2" height="31.6" fill="#fdf3e3"/>
<text class="v" y="20.8"><tspan x="350.9">0</tspan><tspan x="388.1">0.1</tspan><tspan x="425.3">0</tspan><tspan x="462.5">0.2</tspan><tspan x="499.7">0</tspan><tspan x="536.9">0</tspan><tspan x="574.1">0.4</tspan><tspan x="611.3">0</tspan><tspan x="648.5">0.1</tspan><tspan x="685.7">0.3</tspan><tspan x="722.9">0.1</tspan><tspan x="760.1">0.2</tspan><tspan x="797.3">1</tspan></text>
<text class="rl" x="318" y="21.5">Prostate Cancer</text><line class="tk" x1="325" x2="330" y1="15.8" y2="15.8"/>
<g transform="translate(850,15.8)"><circle r="12.3" fill="#dcdde4"/><path class="K" d="M0,0L0,-12.3A12.3,12.3 0 0 1 0.86,-12.27Z"/><path class="H" d="M0,0L0.86,-12.27A12.3,12.3 0 0 1 1.71,-12.18Z"/></g>
<rect class="K" x="885" y="5.3" width="6" height="21"/><rect class="N" x="891" y="5.3" width="1" height="21"/><rect class="H" x="892" y="5.3" width="5" height="21"/>
</g>

<g transform="translate(0,1057.1)">
<rect x="332.3" width="37.2" height="31.6" fill="#fce9d4"/><rect x="369.5" width="37.2" height="31.6" fill="#fdf3e4"/><rect x="406.7" width="37.2" height="31.6" fill="#fef8eb"/><rect x="443.9" width="37.2" height="31.6" fill="#fef9ed"/><rect x="481.1" width="37.2" height="31.6" fill="#fef8eb"/><rect x="518.3" width="37.2" height="31.6" fill="#fdf0de"/><rect x="555.5" width="37.2" height="31.6" fill="#fef8eb"/><rect x="592.7" width="37.2" height="31.6" fill="#fef8eb"/><rect x="629.9" width="37.2" height="31.6" fill="#fdf2e2"/><rect x="667.1" width="37.2" height="31.6" fill="#f6c9a6"/><rect x="704.3" width="37.2" height="31.6" fill="#fef9ec"/><rect x="741.5" width="37.2" height="31.6" fill="#fef9ec"/><rect x="778.7" width="37.2" height="31.6" fill="#fef8eb"/>
<text class="v" y="20.8"><tspan x="350.9">2.3</tspan><tspan x="388.1">0.9</tspan><tspan x="425.3">0.3</tspan><tspan x="462.5">0.1</tspan><tspan x="499.7">0.3</tspan><tspan x="536.9">1.4</tspan><tspan x="574.1">0.3</tspan><tspan x="611.3">0.3</tspan><tspan x="648.5">1.1</tspan><tspan x="685.7">8.2</tspan><tspan x="722.9">0.2</tspan><tspan x="760.1">0.2</tspan><tspan x="797.3">0.3</tspan></text>
<text class="rl" x="318" y="21.5">Esophagogastric Adenocarcinoma</text><line class="tk" x1="325" x2="330" y1="15.8" y2="15.8"/>
<g transform="translate(850,15.8)"><circle r="12.3" fill="#dcdde4"/><path class="K" d="M0,0L0,-12.3A12.3,12.3 0 0 1 10.65,-6.15Z"/></g>
<rect class="K" x="885" y="5.3" width="11" height="21"/>
</g>

<g transform="translate(0,1088.7)">
<rect x="332.3" width="37.2" height="31.6" fill="#fdf3e4"/><rect x="369.5" width="37.2" height="31.6" fill="#fef8eb"/><rect x="406.7" width="37.2" height="31.6" fill="#fef9ed"/><rect x="443.9" width="37.2" height="31.6" fill="#fef9ed"/><rect x="481.1" width="37.2" height="31.6" fill="#fef8eb"/><rect x="518.3" width="37.2" height="31.6" fill="#fdf3e4"/><rect x="555.5" width="37.2" height="31.6" fill="#fef7e9"/><rect x="592.7" width="37.2" height="31.6" fill="#fceedc"/><rect x="629.9" width="37.2" height="31.6" fill="#fdf3e3"/><rect x="667.1" width="37.2" height="31.6" fill="#fef9ec"/><rect x="704.3" width="37.2" height="31.6" fill="#fce8d2"/><rect x="741.5" width="37.2" height="31.6" fill="#f5c29e"/><rect x="778.7" width="37.2" height="31.6" fill="#fef9ec"/>
<text class="v" y="20.8"><tspan x="350.9">0.9</tspan><tspan x="388.1">0.3</tspan><tspan x="425.3">0.1</tspan><tspan x="462.5">0.1</tspan><tspan x="499.7">0.3</tspan><tspan x="536.9">0.9</tspan><tspan x="574.1">0.4</tspan><tspan x="611.3">1.6</tspan><tspan x="648.5">1</tspan><tspan x="685.7">0.2</tspan><tspan x="722.9">2.5</tspan><tspan x="760.1">9.5</tspan><tspan x="797.3">0.2</tspan></text>
<text class="rl" x="318" y="21.5">Myeloid Leukemia</text><line class="tk" x1="325" x2="330" y1="15.8" y2="15.8"/>
<g transform="translate(850,15.8)"><circle r="12.3" fill="#dcdde4"/><path class="K" d="M0,0L0,-12.3A12.3,12.3 0 0 1 3.18,-11.88Z"/><path class="N" d="M0,0L3.18,-11.88A12.3,12.3 0 0 1 10.65,-6.15Z"/></g>
<rect class="K" x="885" y="5.3" width="3" height="21"/><rect class="N" x="888" y="5.3" width="5" height="21"/>
</g>

<g transform="translate(0,1120.3)">
<rect x="332.3" width="37.2" height="31.6" fill="#fef7e9"/><rect x="369.5" width="37.2" height="31.6" fill="#fef9ec"/><rect x="406.7" width="37.2" height="31.6" fill="#fef8eb"/><rect x="443.9" width="37.2" height="31.6" fill="#fefaee"/><rect x="481.1" width="37.2" height="31.6" fill="#fef9ed"/><rect x="518.3" width="37.2" height="31.6" fill="#fef9ec"/><rect x="555.5" width="37.2" height="31.6" fill="#fefaee"/><rect x="592.7" width="37.2" height="31.6" fill="#fef9ed"/><rect x="629.9" width="37.2" height="31.6" fill="#fdf6e7"/><rect x="667.1" width="37.2" height="31.6" fill="#fdf5e6"/><rect x="704.3" width="37.2" height="31.6" fill="#fdf6e7"/><rect x="741.5" width="37.2" height="31.6" fill="#fdf6e7"/><rect x="778.7" width="37.2" height="31.6" fill="#fadfc5"/>
<text class="v" y="20.8"><tspan x="350.9">0.4</tspan><tspan x="388.1">0.2</tspan><tspan x="425.3">0.3</tspan><tspan x="462.5">0</tspan><tspan x="499.7">0.1</tspan><tspan x="536.9">0.2</tspan><tspan x="574.1">0</tspan><tspan x="611.3">0.1</tspan><tspan x="648.5">0.6</tspan><tspan x="685.7">0.7</tspan><tspan x="722.9">0.6</tspan><tspan x="760.1">0.6</tspan><tspan x="797.3">3.7</tspan></text>
<text class="rl" x="318" y="21.5">Head and Neck Cancer</text><line class="tk" x1="325" x2="330" y1="15.8" y2="15.8"/>
<g transform="translate(850,15.8)"><circle r="12.3" fill="#dcdde4"/><path class="K" d="M0,0L0,-12.3A12.3,12.3 0 0 1 2.14,-12.11Z"/><path class="N" d="M0,0L2.14,-12.11A12.3,12.3 0 0 1 2.98,-11.93Z"/><path class="H" d="M0,0L2.98,-11.93A12.3,12.3 0 0 1 4.21,-11.56Z"/></g>
<rect class="K" x="885" y="5.3" width="2" height="21"/><rect class="N" x="887" y="5.3" width="1" height="21"/><rect class="H" x="888" y="5.3" width="4" height="21"/>
</g>

<g transform="translate(0,1151.9)">
<rect x="332.3" width="37.2" height="31.6" fill="#fbe4cc"/><rect x="369.5" width="37.2" height="31.6" fill="#fbe2c9"/><rect x="406.7" width="37.2" height="31.6" fill="#fef6e8"/><rect x="443.9" width="37.2" height="31.6" fill="#fef8eb"/><rect x="481.1" width="37.2" height="31.6" fill="#fef6e8"/><rect x="518.3" width="37.2" height="31.6" fill="#fef7e9"/><rect x="555.5" width="37.2" height="31.6" fill="#fef8eb"/><rect x="592.7" width="37.2" height="31.6" fill="#fef9ec"/><rect x="629.9" width="37.2" height="31.6" fill="#fef7e9"/><rect x="667.1" width="37.2" height="31.6" fill="#fce9d4"/><rect x="704.3" width="37.2" height="31.6" fill="#fdf3e3"/><rect x="741.5" width="37.2" height="31.6" fill="#fef7e9"/><rect x="778.7" width="37.2" height="31.6" fill="#fef8eb"/>
<text class="v" y="20.8"><tspan x="350.9">3</tspan><tspan x="388.1">3.3</tspan><tspan x="425.3">0.5</tspan><tspan x="462.5">0.3</tspan><tspan x="499.7">0.5</tspan><tspan x="536.9">0.4</tspan><tspan x="574.1">0.3</tspan><tspan x="611.3">0.2</tspan><tspan x="648.5">0.4</tspan><tspan x="685.7">2.3</tspan><tspan x="722.9">1</tspan><tspan x="760.1">0.4</tspan><tspan x="797.3">0.3</tspan></text>
<text class="rl" x="318" y="21.5">Ovarian Cancer</text><line class="tk" x1="325" x2="330" y1="15.8" y2="15.8"/>
<g transform="translate(850,15.8)"><circle r="12.3" fill="#dcdde4"/><path class="K" d="M0,0L0,-12.3A12.3,12.3 0 0 1 10.08,-7.05Z"/></g>
<rect class="K" x="885" y="5.3" width="4" height="21"/>
</g>

<g transform="translate(0,1183.5)">
<rect x="332.3" width="37.2" height="31.6" fill="#f7cba9"/><rect x="369.5" width="37.2" height="31.6" fill="#f9d7ba"/><rect x="406.7" width="37.2" height="31.6" fill="#fdf4e5"/><rect x="443.9" width="37.2" height="31.6" fill="#fdf5e6"/><rect x="481.1" width="37.2" height="31.6" fill="#fdf4e5"/><rect x="518.3" width="37.2" height="31.6" fill="#fef6e8"/><rect x="555.5" width="37.2" height="31.6" fill="#fcedda"/><rect x="592.7" width="37.2" height="31.6" fill="#fef6e8"/><rect x="629.9" width="37.2" height="31.6" fill="#fdf0df"/><rect x="667.1" width="37.2" height="31.6" fill="#fdf3e4"/><rect x="704.3" width="37.2" height="31.6" fill="#fcedda"/><rect x="741.5" width="37.2" height="31.6" fill="#fdf3e3"/><rect x="778.7" width="37.2" height="31.6" fill="#fef9ed"/>
<text class="v" y="20.8"><tspan x="350.9">7.7</tspan><tspan x="388.1">4.8</tspan><tspan x="425.3">0.8</tspan><tspan x="462.5">0.7</tspan><tspan x="499.7">0.8</tspan><tspan x="536.9">0.5</tspan><tspan x="574.1">1.8</tspan><tspan x="611.3">0.5</tspan><tspan x="648.5">1.3</tspan><tspan x="685.7">0.9</tspan><tspan x="722.9">1.8</tspan><tspan x="760.1">1</tspan><tspan x="797.3">0.1</tspan></text>
<text class="rl" x="318" y="21.5">Cholangiocarcinoma</text><line class="tk" x1="325" x2="330" y1="15.8" y2="15.8"/>
<g transform="translate(850,15.8)"><circle r="12.3" fill="#dcdde4"/><path class="K" d="M0,0L0,-12.3A12.3,12.3 0 0 1 12.25,-1.07Z"/></g>
<rect class="K" x="885" y="5.3" width="3" height="21"/>
</g>

<g transform="translate(0,1215.1)">
<rect x="332.3" width="37.2" height="31.6" fill="#fef9ec"/><rect x="369.5" width="37.2" height="31.6" fill="#fef9ed"/><rect x="406.7" width="37.2" height="31.6" fill="#fef9ed"/><rect x="443.9" width="37.2" height="31.6" fill="#fef9ed"/><rect x="481.1" width="37.2" height="31.6" fill="#fefaee"/><rect x="518.3" width="37.2" height="31.6" fill="#fef9ec"/><rect x="555.5" width="37.2" height="31.6" fill="#fef9ec"/><rect x="592.7" width="37.2" height="31.6" fill="#fef9ec"/><rect x="629.9" width="37.2" height="31.6" fill="#fdf4e5"/><rect x="667.1" width="37.2" height="31.6" fill="#fef7e9"/><rect x="704.3" width="37.2" height="31.6" fill="#cf4030"/><rect x="741.5" width="37.2" height="31.6" fill="#fadbc0"/><rect x="778.7" width="37.2" height="31.6" fill="#fceedc"/>
<text class="v" y="20.8"><tspan x="350.9">0.2</tspan><tspan x="388.1">0.1</tspan><tspan x="425.3">0.1</tspan><tspan x="462.5">0.1</tspan><tspan x="499.7">0</tspan><tspan x="536.9">0.2</tspan><tspan x="574.1">0.2</tspan><tspan x="611.3">0.2</tspan><tspan x="648.5">0.8</tspan><tspan x="685.7">0.4</tspan><tspan x="722.9" class="vw">24.7</tspan><tspan x="760.1">4.2</tspan><tspan x="797.3">1.6</tspan></text>
<text class="rl" x="318" y="21.5">Metastatic Melanoma</text><line class="tk" x1="325" x2="330" y1="15.8" y2="15.8"/>
<g transform="translate(850,15.8)"><circle r="12.3" fill="#dcdde4"/><path class="K" d="M0,0L0,-12.3A12.3,12.3 0 0 1 0.64,-12.28Z"/><path class="N" d="M0,0L0.64,-12.28A12.3,12.3 0 0 1 7.05,10.08Z"/></g>
<rect class="K" x="885" y="5.3" width="0.6" height="21"/><rect class="N" x="885.6" y="5.3" width="2" height="21"/>
</g>

<path d="M369.5,709.5V1246.7M406.7,709.5V1246.7M443.9,709.5V1246.7M481.1,709.5V1246.7M518.3,709.5V1246.7M555.5,709.5V1246.7M592.7,709.5V1246.7M629.9,709.5V1246.7M667.1,709.5V1246.7M704.3,709.5V1246.7M741.5,709.5V1246.7M778.7,709.5V1246.7M332.3,741.1H816.3M332.3,772.7H816.3M332.3,804.3H816.3M332.3,835.9H816.3M332.3,867.5H816.3M332.3,899.1H816.3M332.3,930.7H816.3M332.3,962.3H816.3M332.3,993.9H816.3M332.3,1025.5H816.3M332.3,1057.1H816.3M332.3,1088.7H816.3M332.3,1120.3H816.3M332.3,1151.9H816.3M332.3,1183.5H816.3M332.3,1215.1H816.3M332.3,709.5H816.3" stroke="#d4c7b4" stroke-width="0.8" fill="none"/>

<rect x="332.3" y="1246.7" width="372" height="101.3" fill="#d8dde8"/>
<rect x="704.3" y="1246.7" width="74.4" height="101.3" fill="#dee5ee"/>
<rect x="778.7" y="1246.7" width="37.6" height="101.3" fill="#e0ede5"/>
<rect x="332.3" y="1348" width="372" height="7" class="K"/>
<rect x="704.3" y="1348" width="74.4" height="7" class="N"/>
<rect x="778.7" y="1348" width="37.6" height="7" class="H"/>
<path d="M350.9,1246.7v5M388.1,1246.7v5M425.3,1246.7v5M462.5,1246.7v5M499.7,1246.7v5M536.9,1246.7v5M574.1,1246.7v5M611.3,1246.7v5M648.5,1246.7v5M685.7,1246.7v5M722.9,1246.7v5M760.1,1246.7v5M797.3,1246.7v5" class="tk"/>
<g class="cl">
<text transform="translate(357,1262) rotate(-45)">G12D</text>
<text transform="translate(394,1262) rotate(-45)">G12V</text>
<text transform="translate(431,1262) rotate(-45)">G12C</text>
<text transform="translate(468.5,1262) rotate(-45)">G12R</text>
<text transform="translate(505.7,1262) rotate(-45)">G12A</text>
<text transform="translate(543,1262) rotate(-45)">G13D</text>
<text transform="translate(580,1262) rotate(-45)">Q61</text>
<text transform="translate(617.3,1262) rotate(-45)">Multiple</text>
<text transform="translate(654.5,1262) rotate(-45)">Other</text>
<text transform="translate(691.7,1262) rotate(-45)">Amplified</text>
<text transform="translate(729,1262) rotate(-45)">Q61</text>
<text transform="translate(766,1262) rotate(-45)">Other</text>
<text transform="translate(803.3,1262) rotate(-45)">Any</text>
</g>
<text x="507" y="1378" font-size="16" text-anchor="middle" fill="#4f5c8f">KRAS</text>
<text x="742" y="1378" font-size="16" text-anchor="middle" fill="#7f9cbf">NRAS</text>
<text x="799" y="1378" font-size="16" text-anchor="middle" fill="#a6d1b3">HRAS</text>

<rect x="95.5" y="1269.5" width="188.5" height="70.5" fill="#fff" stroke="#888"/>
<text x="190" y="1292" font-size="16" text-anchor="middle" fill="#1a1a1a">Prevelance (%)</text>
<rect x="107" y="1303" width="165" height="13" fill="url(#cb)"/>
<path d="M108,1306v9M151,1306v9M194,1306v9M237,1306v9" stroke="#777" stroke-width="0.8"/>
<g font-size="16" text-anchor="middle" fill="#1a1a1a"><text x="108" y="1333">0</text><text x="151" y="1333">10</text><text x="194" y="1333">20</text><text x="237" y="1333">30</text></g>

<line x1="881" y1="1245.5" x2="1012" y2="1245.5" class="tk"/>
<path d="M885,1245.5v5M917,1245.5v5M949,1245.5v5M981,1245.5v5" class="tk"/>
<g font-size="15" text-anchor="end" fill="#1a1a1a">
<text transform="translate(890,1258) rotate(-45)">0</text>
<text transform="translate(922,1258) rotate(-45)">20,000</text>
<text transform="translate(954,1258) rotate(-45)">40,000</text>
<text transform="translate(986,1258) rotate(-45)">60,000</text>
</g>
<text x="947" y="1317" font-size="16" text-anchor="middle" fill="#1a1a1a">Estimated yearly</text>
<text x="947" y="1337" font-size="16" text-anchor="middle" fill="#1a1a1a">case number</text>
<text x="971" y="1359" font-size="18" text-anchor="middle" fill="#f5a623" font-family="'Liberation Sans','Noto Sans CJK SC',sans-serif">全球原研药仿制药资讯</text>
</svg>
</body></html>
